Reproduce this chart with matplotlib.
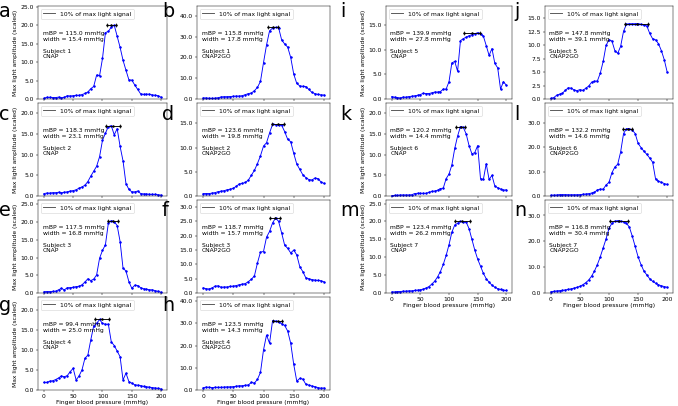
import matplotlib.pyplot as plt
from matplotlib.lines import Line2D
from matplotlib.ticker import FormatStrFormatter, MultipleLocator

# finger blood pressure grid (mmHg)
pressure = [0, 5, 10, 15, 20, 25, 30, 35, 40, 45, 50, 55, 60, 65, 70, 75, 80, 85, 90, 95,
            100, 105, 110, 115, 120, 125, 130, 135, 140, 145, 150, 155, 160, 165, 170, 175,
            180, 185, 190, 195, 200]

# max light amplitude (scaled), one list per panel
amp_a = [0.2, 0.45, 0.45, 0.4, 0.4, 0.5, 0.35, 0.45, 0.9, 0.8, 0.9, 1.0, 1.0, 1.2, 1.5, 1.9, 2.8, 3.4, 6.5, 6.3,
         11.0, 18.0, 18.3, 19.5, 20.0, 17.0, 14.0, 10.5, 7.8, 5.2, 5.1, 3.8, 2.6, 1.4, 1.25, 1.3, 1.3, 1.1, 1.0, 0.9, 0.45]
amp_b = [0.5, 0.5, 0.35, 0.3, 0.4, 0.6, 1.0, 1.1, 1.1, 1.2, 1.3, 1.4, 1.4, 1.6, 2.1, 2.6, 2.9, 4.0, 5.6, 8.5,
         17.5, 26.0, 32.8, 34.2, 34.5, 34.3, 28.5, 26.5, 25.0, 20.0, 12.0, 7.5, 6.3, 6.1, 6.0, 4.6, 3.2, 2.6, 2.2, 2.0, 1.9]
amp_c = [0.6, 0.7, 0.7, 0.8, 0.8, 0.9, 0.8, 0.9, 1.0, 1.2, 1.3, 1.5, 1.9, 2.2, 2.6, 3.5, 4.8, 6.0, 7.2, 9.5,
         13.5, 15.2, 16.8, 17.0, 14.8, 16.3, 12.0, 8.5, 3.0, 1.6, 1.0, 1.0, 1.2, 0.6, 0.5, 0.5, 0.4, 0.4, 0.4, 0.3, 0.2]
amp_d = [0.5, 0.5, 0.5, 0.6, 0.7, 0.9, 1.0, 1.1, 1.3, 1.4, 1.6, 2.0, 2.5, 2.6, 2.8, 3.3, 4.3, 5.3, 6.7, 8.3,
         10.3, 11.0, 13.0, 14.8, 14.7, 14.7, 14.6, 13.3, 11.7, 11.2, 8.8, 6.6, 5.5, 4.4, 3.8, 3.4, 3.3, 3.7, 3.6, 2.9, 2.6]
amp_e = [0.35, 0.4, 0.4, 0.45, 0.5, 0.9, 1.3, 0.9, 1.5, 1.5, 1.6, 1.8, 1.9, 2.3, 3.1, 4.0, 3.5, 3.9, 5.1, 9.8,
         12.0, 13.6, 19.7, 20.4, 20.1, 19.0, 14.5, 7.0, 6.2, 3.2, 1.3, 2.2, 2.1, 1.5, 1.2, 1.1, 0.9, 0.9, 0.65, 0.45, 0.2]
amp_f = [1.8, 1.5, 1.4, 1.8, 2.4, 2.5, 2.0, 2.1, 2.1, 2.3, 2.4, 2.6, 2.9, 3.1, 3.3, 4.0, 4.8, 6.0, 10.5, 14.3,
         14.5, 19.5, 21.5, 24.5, 26.2, 25.0, 21.0, 16.7, 15.6, 14.0, 15.0, 13.3, 9.2, 7.5, 5.3, 5.0, 4.7, 4.5, 4.4, 4.3, 3.9]
amp_g = [1.9, 1.9, 2.2, 2.3, 2.6, 3.0, 3.5, 3.3, 3.6, 4.6, 5.4, 2.5, 3.5, 5.0, 7.9, 8.7, 12.5, 16.0, 16.6, 17.6,
         16.6, 16.4, 16.4, 12.0, 11.1, 9.7, 8.3, 2.5, 4.2, 2.1, 1.7, 1.3, 1.2, 1.1, 0.9, 0.8, 0.7, 0.6, 0.5, 0.4, 0.25]
amp_h = [1.0, 1.3, 1.2, 1.1, 1.2, 1.2, 1.2, 1.3, 1.4, 1.4, 1.5, 1.7, 1.9, 1.9, 2.1, 2.3, 3.4, 3.1, 4.8, 7.9,
         18.0, 24.7, 21.0, 31.2, 31.0, 30.6, 29.8, 29.0, 26.5, 21.0, 11.5, 4.0, 5.2, 4.9, 2.6, 2.2, 1.8, 1.5, 1.1, 0.8, 0.9]
amp_i = [0.5, 0.35, 0.3, 0.2, 0.4, 0.35, 0.5, 0.55, 0.65, 0.75, 0.9, 1.15, 1.1, 1.1, 1.25, 1.4, 1.4, 1.5, 2.0, 2.0,
         3.5, 7.3, 7.6, 5.6, 11.8, 12.2, 12.5, 12.8, 13.0, 13.2, 13.4, 13.15, 12.7, 10.8, 8.8, 10.2, 7.2, 6.3, 2.0, 3.5, 2.8]
amp_j = [0.1, 0.25, 0.7, 0.9, 1.1, 1.6, 2.1, 2.0, 1.7, 1.55, 1.75, 1.6, 2.0, 2.4, 3.1, 3.3, 3.35, 4.8, 7.0, 10.0,
         11.0, 10.8, 9.0, 8.5, 9.8, 12.6, 13.9, 14.0, 14.0, 14.0, 14.0, 13.9, 13.7, 13.6, 12.2, 11.2, 11.0, 10.3, 9.0, 7.3, 5.0]
amp_k = [0.1, 0.15, 0.15, 0.25, 0.25, 0.25, 0.25, 0.3, 0.6, 0.65, 0.65, 0.65, 0.65, 0.9, 1.1, 1.2, 1.4, 1.8, 1.9, 4.2,
         5.3, 7.5, 11.5, 14.5, 16.8, 16.6, 15.0, 12.2, 10.2, 10.5, 12.2, 4.2, 4.0, 7.8, 4.0, 5.0, 2.4, 2.0, 1.7, 1.4, 1.5]
amp_l = [0.3, 0.35, 0.4, 0.55, 0.55, 0.55, 0.5, 0.5, 0.5, 0.5, 0.55, 0.7, 0.8, 0.95, 1.2, 1.5, 2.5, 2.8, 2.8, 4.5,
         5.6, 9.5, 11.8, 13.0, 18.0, 25.5, 27.5, 27.5, 27.0, 25.5, 21.5, 19.8, 18.3, 17.0, 15.5, 13.8, 7.0, 6.0, 5.6, 5.1, 4.7]
amp_m = [0.3, 0.3, 0.4, 0.4, 0.5, 0.5, 0.6, 0.6, 0.7, 0.8, 0.9, 1.1, 1.4, 1.8, 2.5, 3.3, 4.5, 6.0, 8.0, 10.5,
         13.5, 17.0, 19.0, 19.5, 20.0, 19.8, 19.8, 18.0, 15.0, 12.0, 9.5, 7.5, 5.5, 4.0, 3.0, 2.2, 1.6, 1.2, 1.0, 0.8, 0.7]
amp_n = [0.5, 0.6, 0.8, 0.9, 1.0, 1.2, 1.4, 1.6, 1.9, 2.2, 2.6, 3.2, 4.0, 5.0, 6.5, 8.5, 11.0, 14.0, 17.5, 21.0,
         25.0, 27.0, 27.8, 28.0, 27.8, 27.5, 27.0, 25.5, 22.0, 18.0, 14.0, 11.0, 8.5, 7.0, 5.5, 4.5, 3.8, 3.2, 2.8, 2.5, 2.2]

panels = ["a", "b", "c", "d", "e", "f", "g", "h", "i", "j", "k", "l", "m", "n"]
amps = [amp_a, amp_b, amp_c, amp_d, amp_e, amp_f, amp_g, amp_h,
        amp_i, amp_j, amp_k, amp_l, amp_m, amp_n]
subjects = [1, 1, 2, 2, 3, 3, 4, 4, 5, 5, 6, 6, 7, 7]
devices = ["CNAP", "CNAP2GO"] * 7
mbp = [115.0, 115.8, 118.3, 123.6, 117.5, 118.7, 99.4, 123.5, 139.9, 147.8, 120.2, 132.2, 123.4, 116.8]
widths = [15.4, 17.8, 23.1, 19.8, 16.8, 15.7, 25.0, 14.3, 27.8, 39.1, 14.4, 14.6, 26.2, 30.4]
ytops = [25.2, 44.8, 22.5, 19.2, 26.2, 32.5, 23.2, 41.8, 18.8, 17.3, 22.5, 38.0, 26.0, 36.0]

# layout in pixels
W, H = 678, 406
DPI = 43
col_x = [(38, 167), (197, 330), (386, 512), (545, 673)]
row_top = [6, 103, 200, 297]
AX_H = 93
letter_x = [-1, 162, 340, 514]
letter_base = [17, 120, 216, 311]

fig = plt.figure(figsize=(W / DPI, H / DPI), dpi=DPI)

for k, name in enumerate(panels):
    if k < 8:
        row, col = k // 2, k % 2
        bottom_row = row == 3
    else:
        row, col = (k - 8) // 2, 2 + (k - 8) % 2
        bottom_row = row == 2
    x0, x1 = col_x[col]
    top = row_top[row]
    ax = fig.add_axes([x0 / W, 1 - (top + AX_H) / H, (x1 - x0) / W, AX_H / H])

    y = amps[k]
    ax.plot(pressure, y, ".-", color="b")

    # peak plateau marker
    peak = max(y)
    half = widths[k] / 2
    ax.errorbar(mbp[k], peak, xerr=half, fmt=".", color="k", capsize=3, elinewidth=1.5)
    ax.plot([mbp[k] - half, mbp[k] + half], [peak, peak], "k.")

    ax.legend(handles=[Line2D([], [], color="0.3")], labels=["10% of max light signal"],
              loc="upper left")
    ax.text(0.035, 0.73,
            f"mBP = {mbp[k]:.1f} mmHg\nwidth = {widths[k]:.1f} mmHg\n\nSubject {subjects[k]}\n{devices[k]}",
            transform=ax.transAxes, ha="left", va="top")

    ax.set_ylim(0, ytops[k])
    ax.yaxis.set_major_formatter(FormatStrFormatter("%.1f"))
    ax.xaxis.set_major_locator(MultipleLocator(50))

    if col in (0, 2):
        ax.set_ylabel("Max light amplitude (scaled)")
    if bottom_row:
        ax.set_xlabel("Finger blood pressure (mmHg)", labelpad=2)
    else:
        ax.tick_params(labelbottom=False)

    fig.text(letter_x[col] / W, 1 - letter_base[row] / H, name,
             fontsize=32, ha="left", va="baseline")

fig.savefig("out.png", dpi=DPI)
